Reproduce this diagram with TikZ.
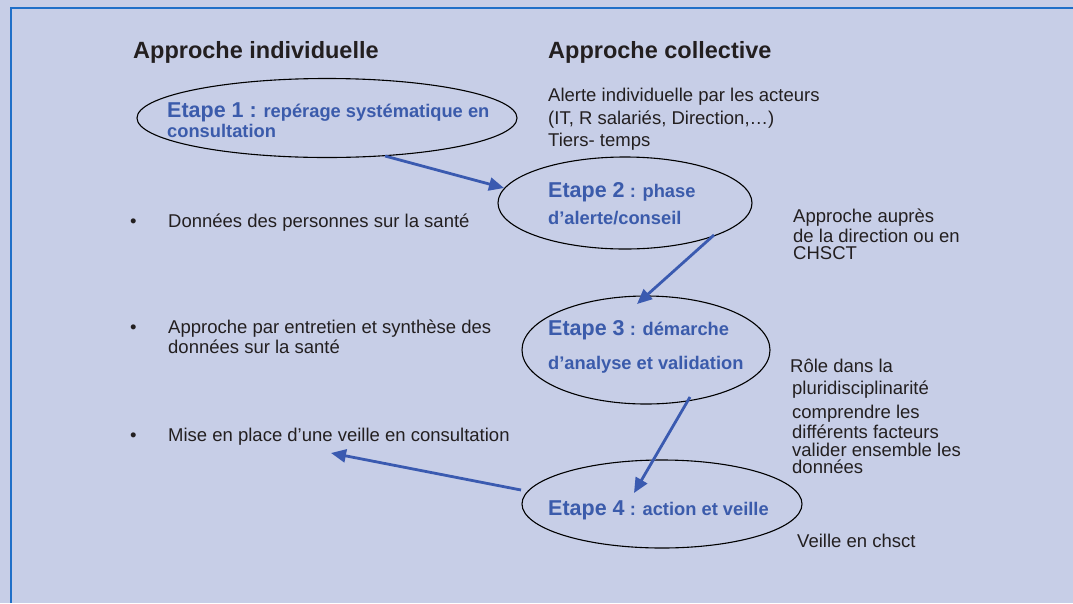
\documentclass[tikz,border=0pt]{standalone}
\usepackage{fontspec}
\setmainfont{Liberation Sans}
\usetikzlibrary{shapes.geometric,arrows.meta}
\definecolor{bg}{HTML}{C7CEE7}
\definecolor{frame}{HTML}{1F6FC8}
\definecolor{etblue}{HTML}{3B5BAB}
\definecolor{arr}{HTML}{3A5AB0}
\definecolor{txt}{HTML}{231F20}
\begin{document}
\begin{tikzpicture}[x=1pt,y=-1pt,
  etape/.style={draw=black,line width=1.1pt,ellipse,inner sep=0pt},
  head/.style={anchor=west,inner sep=0pt,font=\fontsize{23.5}{26}\selectfont\bfseries,text=txt},
  body/.style={anchor=west,inner sep=0pt,font=\fontsize{18.5}{21}\selectfont,text=txt},
  et/.style={anchor=west,inner sep=0pt,font=\fontsize{18.3}{21}\selectfont\bfseries,text=etblue},
  conn/.style={draw=arr,line width=2.8pt,-{Triangle[length=15pt,width=13pt]}}]
\useasboundingbox (0,0) rectangle (1073,603);
\fill[bg] (0,0) rectangle (1073,603);
\draw[frame,line width=2pt] (11,603) -- (11,8) -- (1073,8);

% headings
\node[head] (h1) at (133,52) {Approche individuelle};
\node[head] (h2) at (548,52) {Approche collective};

% ellipses
\node[etape,minimum width=380pt,minimum height=79pt] (e1) at (327,118) {};
\node[etape,minimum width=254pt,minimum height=92pt] (e2) at (625,203) {};
\node[etape,minimum width=248pt,minimum height=108pt] (e3) at (646,350) {};
\node[etape,minimum width=280pt,minimum height=88pt] (e4) at (662,504) {};

% etape texts
\node[et] (t1a) at (167,112) {{\fontsize{21.5}{24}\selectfont Etape 1 :} repérage systématique en};
\node[et] (t1b) at (167,131) {consultation};
\node[et] (t2a) at (548,192) {{\fontsize{21.5}{24}\selectfont Etape 2} : phase};
\node[et] (t2b) at (548,218) {d’alerte/conseil};
\node[et] (t3a) at (548,330) {{\fontsize{21.5}{24}\selectfont Etape 3} : démarche};
\node[et] (t3b) at (548,365) {d’analyse et validation};
\node[et] (t4) at (548,510) {{\fontsize{21.5}{24}\selectfont Etape 4} : action et veille};

% collective texts
\node[body] (c1) at (548,97) {Alerte individuelle par les acteurs};
\node[body] (c2) at (548,120) {(IT, R salariés, Direction,…)};
\node[body] (c3) at (548,142) {Tiers- temps};
\node[body] (d1) at (793,218) {Approche auprès};
\node[body] (d2) at (793,236) {de la direction ou en};
\node[body] (d3) at (793,253) {CHSCT};
\node[body] (r1) at (790,366) {Rôle dans la};
\node[body] (r2) at (792,390) {pluridisciplinarité};
\node[body] (r3) at (792,414) {comprendre les};
\node[body] (r4) at (792,432) {différents facteurs};
\node[body] (r5) at (792,450) {valider ensemble les};
\node[body] (r6) at (792,467) {données};
\node[body] (v1) at (797,541) {Veille en chsct};

% individual bullets
\node[body] (b1) at (130,223) {•};
\node[body] (i1) at (168,223) {Données des personnes sur la santé};
\node[body] (b2) at (130,329) {•};
\node[body] (i2) at (168,329) {Approche par entretien et synthèse des};
\node[body] (i2b) at (168,347) {données sur la santé};
\node[body] (b3) at (130,437) {•};
\node[body] (i3) at (168,437) {Mise en place d’une veille en consultation};

% arrows
\coordinate (a1s) at (385,156);
\coordinate (a1e) at (504,188);
\coordinate (a2s) at (714,235);
\coordinate (a2e) at (637,304);
\coordinate (a3s) at (690,397);
\coordinate (a3e) at (634,493);
\coordinate (a4s) at (521,490);
\coordinate (a4e) at (331,453);
\draw[conn] (a1s) -- (a1e);
\draw[conn] (a2s) -- (a2e);
\draw[conn] (a3s) -- (a3e);
\draw[conn] (a4s) -- (a4e);
\end{tikzpicture}
\end{document}
